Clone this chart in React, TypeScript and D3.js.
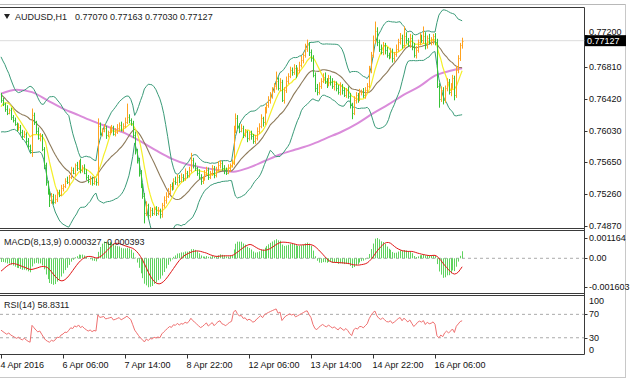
import React from "react";
import * as d3 from "d3";

// ---------- data (prices in pips, 1e-4) ----------
const historyCloses = [
  7690, 7694, 7688, 7684, 7690, 7696, 7692, 7688, 7684, 7680, 7686, 7690, 7684, 7678, 7682, 7686, 7680, 7676, 7680, 7682,
  7678, 7682, 7676, 7680, 7672, 7676, 7670, 7665, 7655, 7642, 7630, 7622, 7615, 7610, 7618, 7626, 7632, 7640, 7645, 7648,
];

const closePips = [
  7640, 7635, 7630, 7625, 7628, 7620, 7616, 7611,
  7606, 7608, 7601, 7596, 7599, 7591, 7584, 7579,
  7622,
  7613, 7603, 7594, 7597, 7581, 7561, 7540, 7528,
  7518, 7524, 7516, 7520, 7528, 7525, 7533,
  7536, 7542, 7540, 7547, 7555, 7552, 7561, 7557,
  7564, 7555, 7559, 7552, 7547, 7542, 7545, 7539,
  7542, 7540, 7609, 7600, 7603, 7606, 7598, 7601,
  7604, 7607, 7599, 7602, 7606, 7610, 7604, 7609,
  7614, 7620, 7616, 7612,
  7598, 7579, 7567, 7552, 7536, 7524,
  7503, 7512, 7500, 7506, 7503, 7508,
  7503, 7506, 7501, 7512, 7518, 7524,
  7530, 7536, 7533, 7542, 7540, 7547,
  7542, 7547, 7545, 7552, 7549, 7555, 7567, 7561,
  7557, 7552, 7547, 7542, 7545, 7550, 7555, 7547,
  7552, 7557, 7549, 7555, 7561, 7564, 7557, 7555,
  7552, 7557, 7561,
  7564, 7603, 7618, 7609, 7603,
  7606, 7598, 7601, 7594, 7599, 7596, 7591, 7594,
  7603, 7609, 7618, 7613, 7628, 7634, 7640, 7646,
  7652, 7658, 7664, 7655, 7662, 7640, 7652,
  7664, 7670, 7677, 7674, 7679, 7672, 7677, 7683,
  7689, 7695, 7703, 7707, 7699, 7691,
  7671, 7655, 7650, 7658, 7664,
  7669, 7664, 7660, 7667, 7662, 7657,
  7660, 7655, 7650, 7657, 7652, 7647, 7652, 7645,
  7634, 7625, 7640, 7646, 7642, 7650,
  7650, 7646, 7652, 7658, 7677, 7695, 7713, 7725,
  7711, 7703, 7699, 7707, 7701, 7695,
  7694, 7699, 7691, 7696, 7703,
  7711, 7716, 7707, 7719, 7713, 7708, 7716,
  7706, 7695, 7701, 7711, 7716,
  7713, 7719, 7707, 7716, 7711,
  7713, 7718, 7711, 7658, 7642, 7652, 7640,
  7655, 7662, 7650, 7658, 7667, 7646,
  7677, 7691, 7707, 7712.7,
];

const wickUp = [
  1, 3, 2, 4, 2, 3, 2, 3, 2, 4,
  2, 3, 4, 2, 3, 2, 8, 3, 2, 4,
  3, 2, 2, 3, 2, 4, 3, 2, 5, 3,
  3, 4, 2, 3, 5, 2, 4, 3, 2, 4,
  3, 5, 2, 3, 4, 2, 3, 2, 4, 3,
  9, 4, 3, 5, 3, 2, 4, 3, 2, 4,
  5, 3, 4, 3, 5, 16, 3, 2, 3, 4,
  2, 3, 3, 2, 3, 5, 2, 4, 3, 2,
  3, 4, 2, 3, 5, 4, 3, 2, 4, 3,
  5, 3, 2, 4, 3, 5, 2, 4, 9, 3,
  3, 2, 4, 3, 2, 5, 4, 3, 2, 4,
  3, 4, 5, 3, 2, 4, 3, 5, 2, 4,
  6, 6, 4, 3, 5, 3, 4, 2, 3, 4,
  3, 4, 4, 3, 5, 2, 4, 3, 5, 4,
  4, 3, 11, 4, 5, 3, 4, 5, 3, 4,
  3, 5, 4, 3, 4, 5, 3, 6, 7, 4,
  3, 4, 3, 5, 4, 3, 4, 5, 3, 4,
  3, 5, 4, 3, 4, 5, 3, 4, 3, 5,
  4, 3, 5, 4, 3, 4, 3, 5, 4, 3,
  5, 4, 6, 11, 4, 3, 5, 4, 3, 4,
  3, 5, 4, 3, 5, 4, 6, 4, 11, 4,
  3, 5, 4, 4, 5, 3, 6, 4, 11, 4,
  3, 5, 4, 3, 4, 4, 3, 5, 4, 3,
  5, 4, 3, 4, 3, 5, 4, 3, 3.6,
];

const wickDown = [
  3, 2, 4, 3, 2, 4, 3, 2, 4, 3,
  3, 4, 2, 5, 3, 4, 8, 3, 4, 2,
  4, 3, 5, 4, 3, 8, 4, 3, 2, 4,
  3, 2, 4, 3, 2, 4, 3, 2, 4, 3,
  2, 4, 3, 2, 4, 3, 5, 3, 2, 4,
  4, 3, 4, 2, 5, 3, 3, 4, 2, 3,
  3, 4, 2, 3, 3, 3, 4, 3, 4, 5,
  4, 5, 3, 4, 13, 4, 5, 3, 4, 3,
  4, 3, 5, 4, 3, 4, 3, 5, 3, 2,
  3, 4, 3, 2, 4, 3, 4, 3, 3, 4,
  3, 4, 3, 5, 4, 3, 2, 4, 3, 4,
  4, 3, 2, 4, 3, 5, 3, 2, 4, 3,
  3, 3, 4, 3, 2, 4, 3, 5, 3, 4,
  4, 4, 3, 4, 3, 5, 3, 4, 3, 4,
  4, 3, 5, 3, 4, 2, 4, 3, 4, 3,
  4, 3, 5, 3, 4, 3, 4, 3, 4, 5,
  4, 3, 5, 4, 3, 4, 3, 4, 5, 3,
  4, 3, 5, 4, 3, 4, 5, 3, 4, 3,
  4, 8, 3, 4, 5, 3, 4, 3, 4, 3,
  3, 4, 3, 4, 5, 4, 3, 4, 5, 3,
  4, 3, 5, 4, 3, 4, 3, 4, 3, 4,
  3, 4, 5, 3, 4, 3, 4, 3, 4, 5,
  4, 3, 4, 5, 4, 3, 11, 4, 5, 3,
  4, 3, 5, 4, 6, 3, 4, 3, 4,
];

const maLongBars = [0, 8, 16, 24, 32, 40, 48, 56, 64, 72, 80, 88, 96, 104, 112, 120, 128, 136, 144, 152, 160, 168, 176, 184, 192, 200, 208, 216, 224, 232, 238];
const maLongPips = [7648, 7653, 7650, 7640, 7630, 7622, 7614, 7607, 7600, 7590, 7579, 7569, 7562, 7558, 7555, 7553, 7558, 7566, 7574, 7580, 7586, 7594, 7602, 7612, 7624, 7635, 7647, 7657, 7670, 7676, 7679];

const timeLabels = ["4 Apr 2016", "6 Apr 06:00", "7 Apr 14:00", "8 Apr 22:00", "12 Apr 06:00", "13 Apr 14:00", "14 Apr 22:00", "16 Apr 06:00"];
const timeLabelBars = [0, 32, 64, 96, 128, 160, 192, 224];

const priceTicks = [0.772, 0.7681, 0.7642, 0.7603, 0.7565, 0.7526, 0.7487];
const priceTickLabels = ["0.77200", "0.76810", "0.76420", "0.76030", "0.75650", "0.75260", "0.74870"];
const lastPrice = 0.77127;

const macdTicks = [0.001164, 0, -0.001603];
const macdTickLabels = ["0.001164", "0.00", "-0.001603"];
const rsiTicks = [100, 70, 30, 0];

const titleMain = "AUDUSD,H1";
const titleValues = "0.77070 0.77163 0.77030 0.77127";
const titleMacd = "MACD(8,13,9) 0.000327 -0.000393";
const titleRsi = "RSI(14) 58.8311";

// ---------- layout ----------
const W = 630;
const H = 386;
const RIGHT = 584.5;
const MAIN = { top: 9, bottom: 228 };
const MACDP = { top: 231, bottom: 293 };
const RSIP = { top: 296, bottom: 354.5 };
const FONT = "'Liberation Sans', Arial, sans-serif";

const C = {
  up: "#ffa21f",
  down: "#36c236",
  bb: "#3a9a78",
  ma: "#8d7a5a",
  fast: "#f4ef2a",
  long: "#da8cda",
  hist: "#5fd35f",
  signal: "#e01818",
  rsi: "#ee7070",
  frame: "#3a3a3a",
};

function computeAll() {
  const H0 = historyCloses.length;
  const all = [...historyCloses, ...closePips].map((v) => v / 1e4);
  const n = closePips.length;
  const bars = [];
  for (let i = 0; i < n; i++) {
    const o = all[H0 + i - 1];
    const c = all[H0 + i];
    bars.push({
      i,
      o,
      c,
      h: Math.max(o, c) + wickUp[i] / 1e4,
      l: Math.min(o, c) - wickDown[i] / 1e4,
    });
  }
  const sma = (k: number, p: number) => d3.mean(all.slice(k - p + 1, k + 1)) as number;
  const bbU: number[] = [], bbL: number[] = [], bbM: number[] = [], fast: number[] = [];
  for (let i = 0; i < n; i++) {
    const k = H0 + i;
    const win = all.slice(k - 19, k + 1);
    const m = d3.mean(win) as number;
    const sd = Math.sqrt(d3.mean(win.map((v) => (v - m) * (v - m))) as number);
    bbM.push(m);
    bbU.push(m + 2 * sd);
    bbL.push(m - 2 * sd);
    fast.push(sma(k, 8));
  }
  // MACD (8,13,9), signal = SMA of main line
  const ema = (p: number) => {
    const a = 2 / (p + 1);
    const out: number[] = [];
    all.forEach((v, j) => out.push(j === 0 ? v : a * v + (1 - a) * out[j - 1]));
    return out;
  };
  const e8 = ema(8), e13 = ema(13);
  const mainAll = all.map((_, j) => e8[j] - e13[j]);
  const macd: number[] = [], signal: number[] = [];
  for (let i = 0; i < n; i++) {
    const k = H0 + i;
    macd.push(mainAll[k]);
    signal.push(d3.mean(mainAll.slice(k - 8, k + 1)) as number);
  }
  // RSI 14 (Wilder)
  let ag = 0, al = 0;
  const rsiAll: number[] = [];
  for (let j = 1; j < all.length; j++) {
    const d = all[j] - all[j - 1];
    const g = Math.max(d, 0), l = Math.max(-d, 0);
    if (j <= 14) {
      ag += g / 14;
      al += l / 14;
    } else {
      ag = (ag * 13 + g) / 14;
      al = (al * 13 + l) / 14;
    }
    rsiAll[j] = al === 0 ? 100 : 100 - 100 / (1 + ag / al);
  }
  const rsi = bars.map((b) => rsiAll[H0 + b.i]);
  return { bars, bbU, bbL, bbM, fast, macd, signal, rsi };
}

export default function App() {
  const { bars, bbU, bbL, bbM, fast, macd, signal, rsi } = computeAll();
  const x = d3.scaleLinear().domain([0, 224]).range([1, 435]);
  const y = d3.scaleLinear().domain([0.74844, 0.77513]).range([MAIN.bottom, MAIN.top]);
  const ym = d3.scaleLinear().domain([-0.001904, 0.001542]).range([292, 231]);
  const yr = d3.scaleLinear().domain([0, 100]).range([355.3, 296.8]);

  const lineOf = (vals: number[], sc: d3.ScaleLinear<number, number>) =>
    d3.line<number>().x((_, i) => x(i)).y((v) => sc(v))(vals) || "";

  const longLine =
    d3
      .line<number>()
      .x((_, k) => x(maLongBars[k]))
      .y((v) => y(v / 1e4))
      .curve(d3.curveMonotoneX)(maLongPips) || "";

  const clampY = (v: number, top: number, bottom: number) => Math.max(top + 5, Math.min(bottom - 5, v));

  return (
    <svg
      width={W}
      height={H}
      viewBox={`0 0 ${W} ${H}`}
      style={{ position: "absolute", left: 0, top: 0, background: "#fff" }}
      fontFamily={FONT}
    >
      <defs>
        <clipPath id="cMain">
          <rect x={0} y={MAIN.top} width={RIGHT} height={MAIN.bottom - MAIN.top} />
        </clipPath>
        <clipPath id="cMacd">
          <rect x={0} y={MACDP.top} width={RIGHT} height={MACDP.bottom - MACDP.top} />
        </clipPath>
        <clipPath id="cRsi">
          <rect x={0} y={RSIP.top} width={RIGHT} height={RSIP.bottom - RSIP.top} />
        </clipPath>
      </defs>
      <rect x={0} y={0} width={W} height={H} fill="#fff" />

      {/* frames */}
      <line x1={0} x2={626} y1={4.5} y2={4.5} stroke="#b8b8b8" />
      <line x1={0} x2={RIGHT} y1={7.5} y2={7.5} stroke={C.frame} />
      <line x1={0} x2={RIGHT} y1={228.5} y2={228.5} stroke={C.frame} />
      <line x1={0} x2={RIGHT} y1={230.5} y2={230.5} stroke={C.frame} />
      <line x1={0} x2={RIGHT} y1={293.5} y2={293.5} stroke={C.frame} />
      <line x1={0} x2={RIGHT} y1={295.5} y2={295.5} stroke={C.frame} />
      <line x1={0} x2={RIGHT} y1={354.5} y2={354.5} stroke={C.frame} />
      <line x1={RIGHT} x2={RIGHT} y1={7.5} y2={354.5} stroke={C.frame} />
      <line x1={625.5} x2={625.5} y1={4} y2={378} stroke="#c8c8c8" />
      <line x1={0} x2={626} y1={377.5} y2={377.5} stroke="#c8c8c8" />

      {/* main panel */}
      <g clipPath="url(#cMain)">
        <line x1={0} x2={RIGHT} y1={y(lastPrice)} y2={y(lastPrice)} stroke="#dcdcdc" />
        <path d={longLine} fill="none" stroke={C.long} strokeWidth={2} />
        <path d={lineOf(bbU, y)} fill="none" stroke={C.bb} strokeWidth={1} />
        <path d={lineOf(bbL, y)} fill="none" stroke={C.bb} strokeWidth={1} />
        <path d={lineOf(bbM, y)} fill="none" stroke={C.ma} strokeWidth={1.1} />
        <path d={lineOf(fast, y)} fill="none" stroke={C.fast} strokeWidth={1.2} />
        {bars.map((b) => {
          const xx = Math.round(x(b.i)) + 0.5;
          const col = b.c >= b.o ? C.up : C.down;
          const yc = Math.round(y(b.c)) + 0.5;
          return (
            <g key={b.i} stroke={col} strokeWidth={1}>
              <line x1={xx} x2={xx} y1={y(b.h)} y2={y(b.l)} />
              <line x1={xx} x2={xx + 1} y1={yc} y2={yc} />
            </g>
          );
        })}
      </g>

      {/* title */}
      <path d="M4,14 L10,14 L7,19 Z" fill="#222" />
      <text x={15} y={17} fontSize={9} dominantBaseline="central" fill="#222">
        {titleMain}
      </text>
      <text x={75} y={17} fontSize={9} dominantBaseline="central" fill="#222">
        {titleValues}
      </text>

      {/* price axis */}
      {priceTicks.map((t, k) => (
        <g key={t}>
          <line x1={RIGHT} x2={RIGHT + 3} y1={Math.round(y(t)) + 0.5} y2={Math.round(y(t)) + 0.5} stroke="#333" />
          <text x={589} y={k === 0 ? y(t) - 3 : y(t)} fontSize={9} dominantBaseline="central" fill="#111">
            {priceTickLabels[k]}
          </text>
        </g>
      ))}
      <rect x={585} y={y(lastPrice) - 5.5} width={41} height={11} fill="#000" />
      <text x={587} y={y(lastPrice)} fontSize={9} dominantBaseline="central" fill="#fff">
        {lastPrice.toFixed(5)}
      </text>

      {/* MACD panel */}
      <g clipPath="url(#cMacd)">
        <line x1={0} x2={RIGHT} y1={ym(0)} y2={ym(0)} stroke="#aaa" strokeDasharray="3,3" />
        {macd.map((v, i) => {
          const xx = Math.round(x(i)) + 0.5;
          return <line key={i} x1={xx} x2={xx} y1={ym(0)} y2={ym(v)} stroke={C.hist} strokeWidth={1} />;
        })}
        <path d={lineOf(signal, ym)} fill="none" stroke={C.signal} strokeWidth={1} />
      </g>
      <text x={4} y={242} fontSize={9} dominantBaseline="central" fill="#222">
        {titleMacd}
      </text>
      {macdTicks.map((t, k) => (
        <g key={k}>
          <line x1={RIGHT} x2={RIGHT + 3} y1={Math.round(ym(t)) + 0.5} y2={Math.round(ym(t)) + 0.5} stroke="#333" />
          <text x={589} y={clampY(ym(t), MACDP.top, MACDP.bottom)} fontSize={9} dominantBaseline="central" fill="#111">
            {macdTickLabels[k]}
          </text>
        </g>
      ))}

      {/* RSI panel */}
      <g clipPath="url(#cRsi)">
        <line x1={0} x2={RIGHT} y1={yr(70)} y2={yr(70)} stroke="#aaa" strokeDasharray="3,3" />
        <line x1={0} x2={RIGHT} y1={yr(30)} y2={yr(30)} stroke="#aaa" strokeDasharray="3,3" />
        <path d={lineOf(rsi, yr)} fill="none" stroke={C.rsi} strokeWidth={1} />
      </g>
      <text x={4} y={305} fontSize={9} dominantBaseline="central" fill="#222">
        {titleRsi}
      </text>
      {rsiTicks.map((t) => (
        <g key={t}>
          {t !== 100 && t !== 0 && (
            <line x1={RIGHT} x2={RIGHT + 3} y1={Math.round(yr(t)) + 0.5} y2={Math.round(yr(t)) + 0.5} stroke="#333" />
          )}
          <text x={589} y={clampY(yr(t), RSIP.top, RSIP.bottom)} fontSize={9} dominantBaseline="central" fill="#111">
            {t}
          </text>
        </g>
      ))}

      {/* time axis */}
      {timeLabelBars.map((b, k) => {
        const xx = Math.round(x(b)) + 0.5;
        return (
          <g key={b}>
            <line x1={xx} x2={xx} y1={354.5} y2={358.5} stroke="#333" />
            <text x={xx - 1} y={365} fontSize={9} dominantBaseline="central" fill="#111">
              {timeLabels[k]}
            </text>
          </g>
        );
      })}
    </svg>
  );
}
